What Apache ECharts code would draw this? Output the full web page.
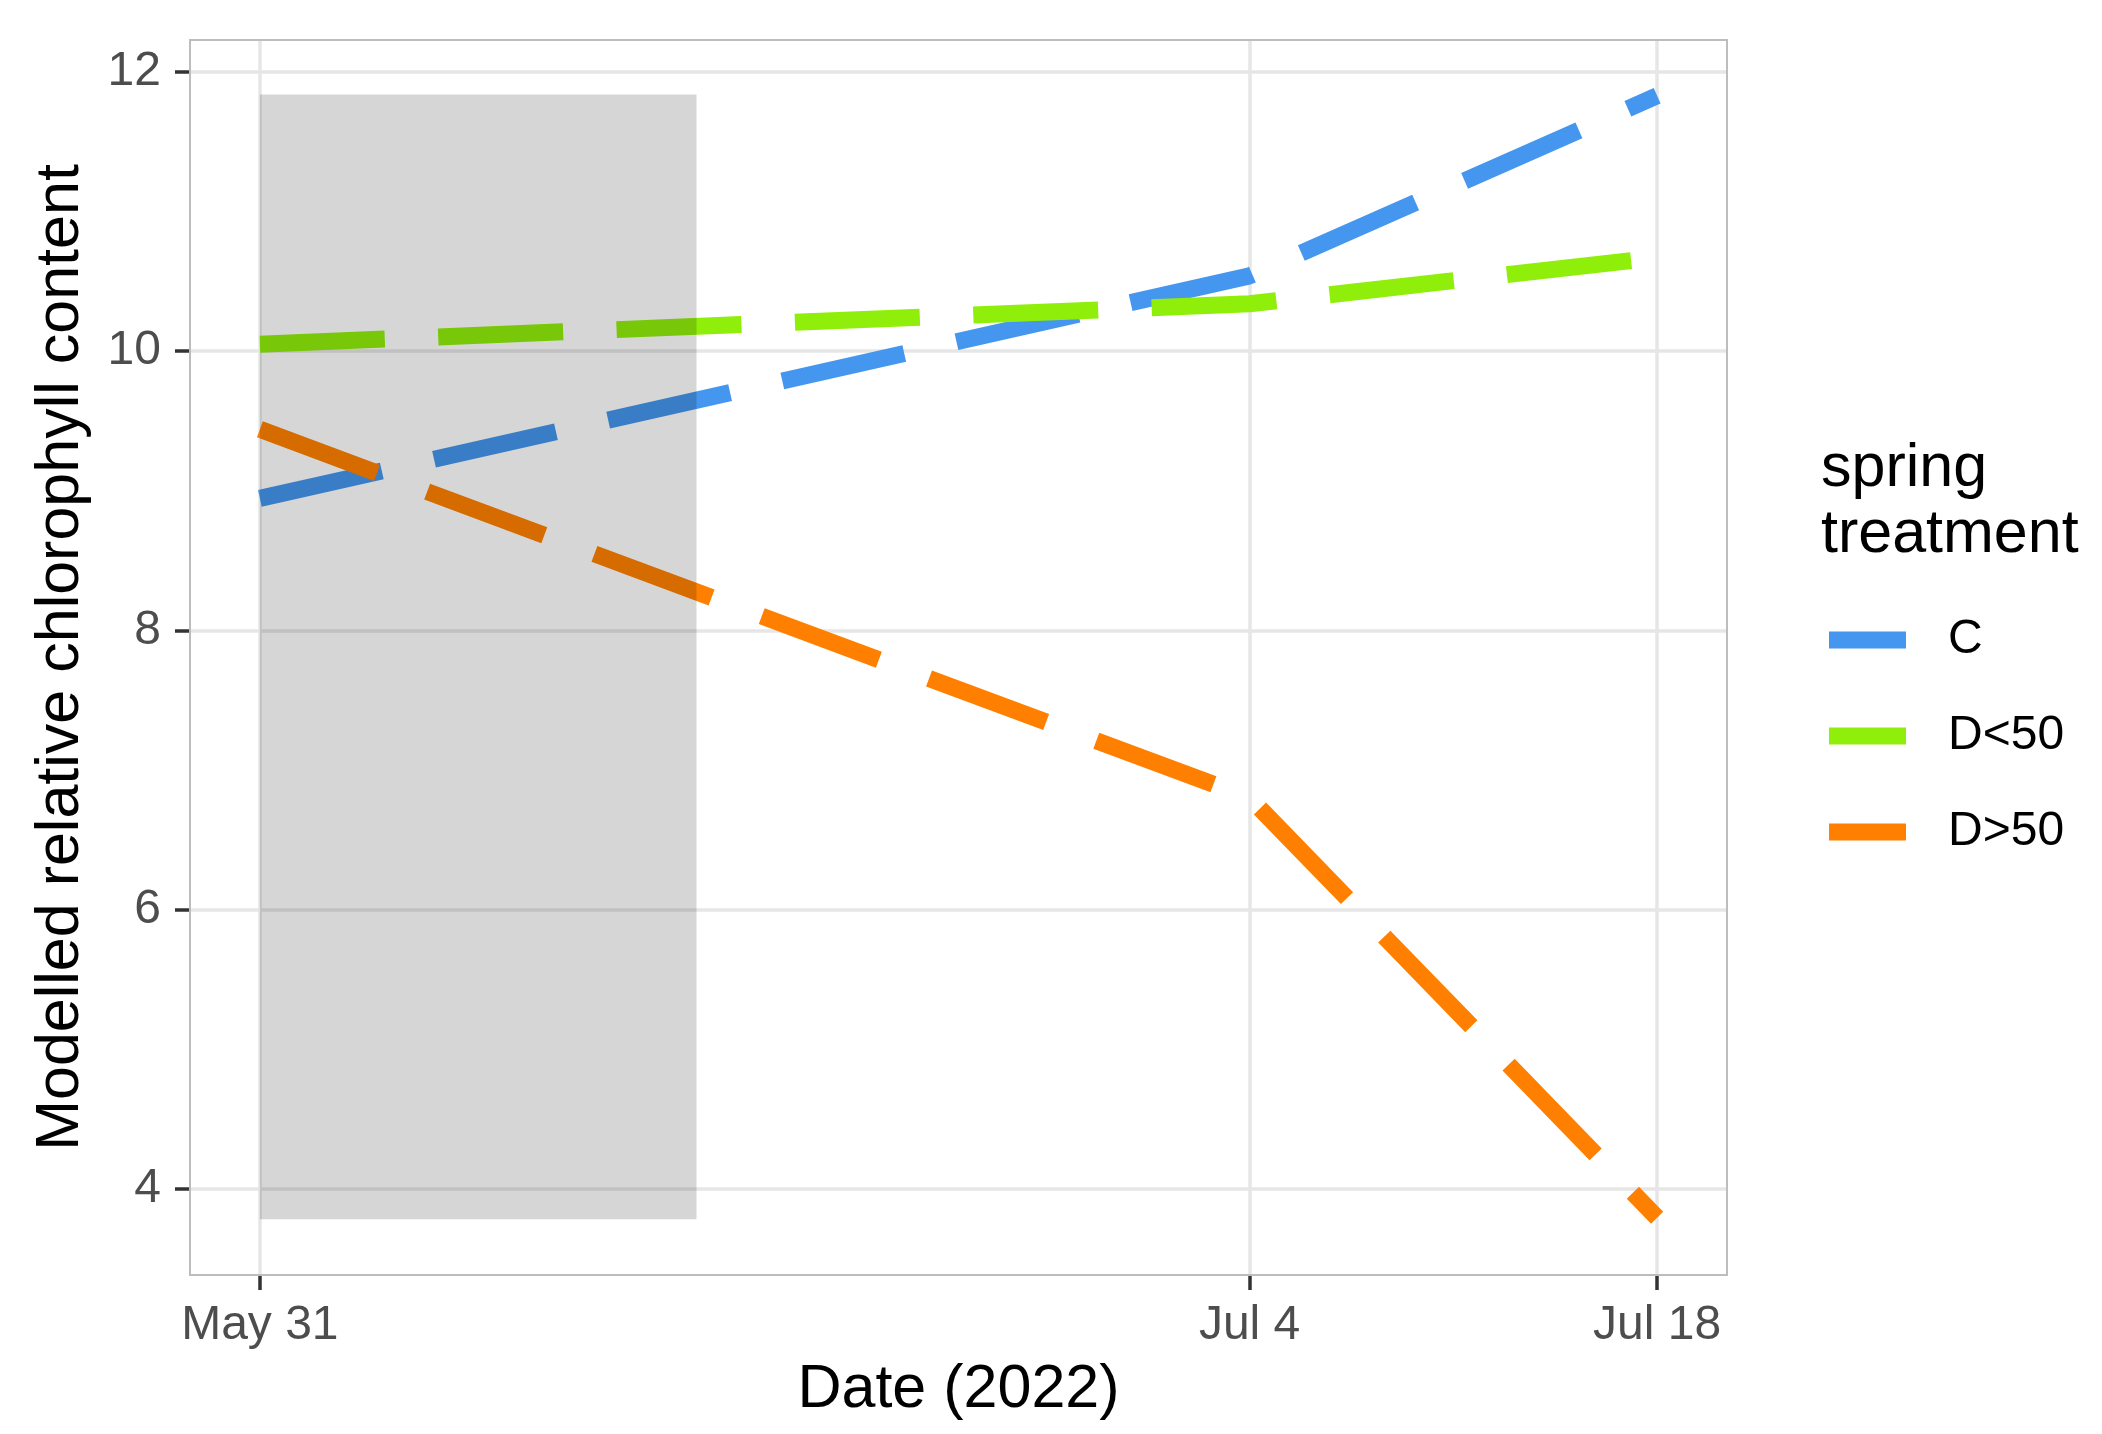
<!DOCTYPE html>
<html>
<head>
<meta charset="utf-8">
<script src="https://cdn.jsdelivr.net/npm/echarts@6/dist/echarts.min.js"></script>
<style>
html, body { margin: 0; padding: 0; background: #ffffff; }
#chart { width: 2102px; height: 1434px; }
</style>
</head>
<body>
<div id="chart"></div>
<script>
// ---------- data ----------
const dates = ['2022-05-31', '2022-07-04', '2022-07-18'];
const seriesNames = ['C', 'D<50', 'D>50'];
const valuesC = [8.945, 10.54, 11.83];
const valuesDlt50 = [10.05, 10.34, 10.67];
const valuesDgt50 = [9.44, 6.80, 3.79];
const shadeDates = ['2022-05-31', '2022-06-15'];
const shadeValues = [3.78, 11.84];
const xTickDates = ['2022-05-31', '2022-07-04', '2022-07-18'];
const xTickLabels = ['May 31', 'Jul 4', 'Jul 18'];
const yTicks = [4, 6, 8, 10, 12];
const legendTitle = 'spring\ntreatment';
const xTitle = 'Date (2022)';
const yTitle = 'Modelled relative chlorophyll content';

// ---------- helpers ----------
const FONT = '"Liberation Sans", Arial, Helvetica, sans-serif';
const colors = ['#4596EE', '#8FEE0A', '#FF8000'];
const origin = Date.UTC(2022, 4, 31);
function dayNum(s) {
  const p = s.split('-').map(Number);
  return (Date.UTC(p[0], p[1] - 1, p[2]) - origin) / 86400000;
}
const xTickDays = xTickDates.map(dayNum);
const allValues = [valuesC, valuesDlt50, valuesDgt50];

const gridLines = xTickDays.map(d => ({ xAxis: d })).concat(yTicks.map(v => ({ yAxis: v })));

const lineSeries = seriesNames.map((name, i) => ({
  name: name,
  type: 'line',
  data: dates.map((d, j) => [dayNum(d), allValues[i][j]]),
  symbol: 'none',
  showSymbol: false,
  smooth: false,
  z: 2,
  silent: true,
  itemStyle: { color: colors[i] },
  lineStyle: { color: colors[i], width: 17, type: [125, 53.5], cap: 'butt', join: 'round' },
  emphasis: { disabled: true },
  markLine: i === 0 ? {
    silent: true,
    z: 1,
    symbol: ['none', 'none'],
    label: { show: false },
    lineStyle: { color: '#E6E6E6', width: 3.5, type: 'solid' },
    emphasis: { disabled: true },
    animation: false,
    data: gridLines
  } : undefined
}));

const shadeSeries = {
  type: 'custom',
  z: 3,
  silent: true,
  encode: { x: [0, 1], y: [2, 3] },
  data: [[dayNum(shadeDates[0]), dayNum(shadeDates[1]), shadeValues[0], shadeValues[1]]],
  renderItem: function (params, api) {
    const p0 = api.coord([api.value(0), api.value(3)]);
    const p1 = api.coord([api.value(1), api.value(2)]);
    return {
      type: 'rect',
      shape: { x: p0[0], y: p0[1], width: p1[0] - p0[0], height: p1[1] - p0[1] },
      style: { fill: 'rgba(0,0,0,0.16)' }
    };
  }
};

const chart = echarts.init(document.getElementById('chart'), null, { renderer: 'canvas' });
chart.setOption({
  animation: false,
  backgroundColor: '#ffffff',
  title: {
    text: legendTitle,
    left: 1821,
    top: 436,
    padding: 0,
    textStyle: { fontFamily: FONT, fontSize: 61, fontWeight: 'normal', color: '#000000', lineHeight: 66 }
  },
  legend: {
    data: seriesNames,
    orient: 'vertical',
    left: 1829,
    top: 616,
    padding: 0,
    itemWidth: 77,
    itemHeight: 17,
    itemGap: 48,
    icon: 'rect',
    selectedMode: false,
    itemStyle: { borderWidth: 0 },
    textStyle: { fontFamily: FONT, fontSize: 48, color: '#000000', lineHeight: 48, padding: [0, 0, 0, 37] }
  },
  grid: {
    left: 190,
    top: 40,
    width: 1537,
    height: 1235,
    show: true,
    z: 4,
    borderColor: '#BDBDBD',
    borderWidth: 2,
    backgroundColor: 'transparent',
    containLabel: false
  },
  xAxis: {
    type: 'value',
    min: -2.4,
    max: 50.4,
    name: xTitle,
    nameLocation: 'middle',
    nameGap: 85,
    nameTextStyle: { fontFamily: FONT, fontSize: 61, color: '#000000', lineHeight: 61 },
    axisLine: { show: false, onZero: false },
    splitLine: { show: false },
    axisTick: { show: true, customValues: xTickDays, length: 15, lineStyle: { color: '#333333', width: 3.5 } },
    axisLabel: {
      customValues: xTickDays,
      margin: 27,
      fontFamily: FONT,
      fontSize: 48,
      lineHeight: 48,
      color: '#4D4D4D',
      formatter: function (v) {
        const k = xTickDays.findIndex(d => Math.abs(d - v) < 1e-6);
        return k >= 0 ? xTickLabels[k] : '';
      }
    }
  },
  yAxis: {
    type: 'value',
    min: 3.38,
    max: 12.23,
    name: yTitle,
    nameLocation: 'middle',
    nameGap: 98,
    nameTextStyle: { fontFamily: FONT, fontSize: 61, color: '#000000', lineHeight: 61 },
    axisLine: { show: false, onZero: false },
    splitLine: { show: false },
    axisTick: { show: true, customValues: yTicks, length: 15, lineStyle: { color: '#333333', width: 3.5 } },
    axisLabel: {
      customValues: yTicks,
      margin: 29,
      fontFamily: FONT,
      fontSize: 48,
      color: '#4D4D4D',
      formatter: function (v) {
        return yTicks.some(t => Math.abs(t - v) < 1e-6) ? String(v) : '';
      }
    }
  },
  series: lineSeries.concat([shadeSeries])
});
</script>
</body>
</html>
